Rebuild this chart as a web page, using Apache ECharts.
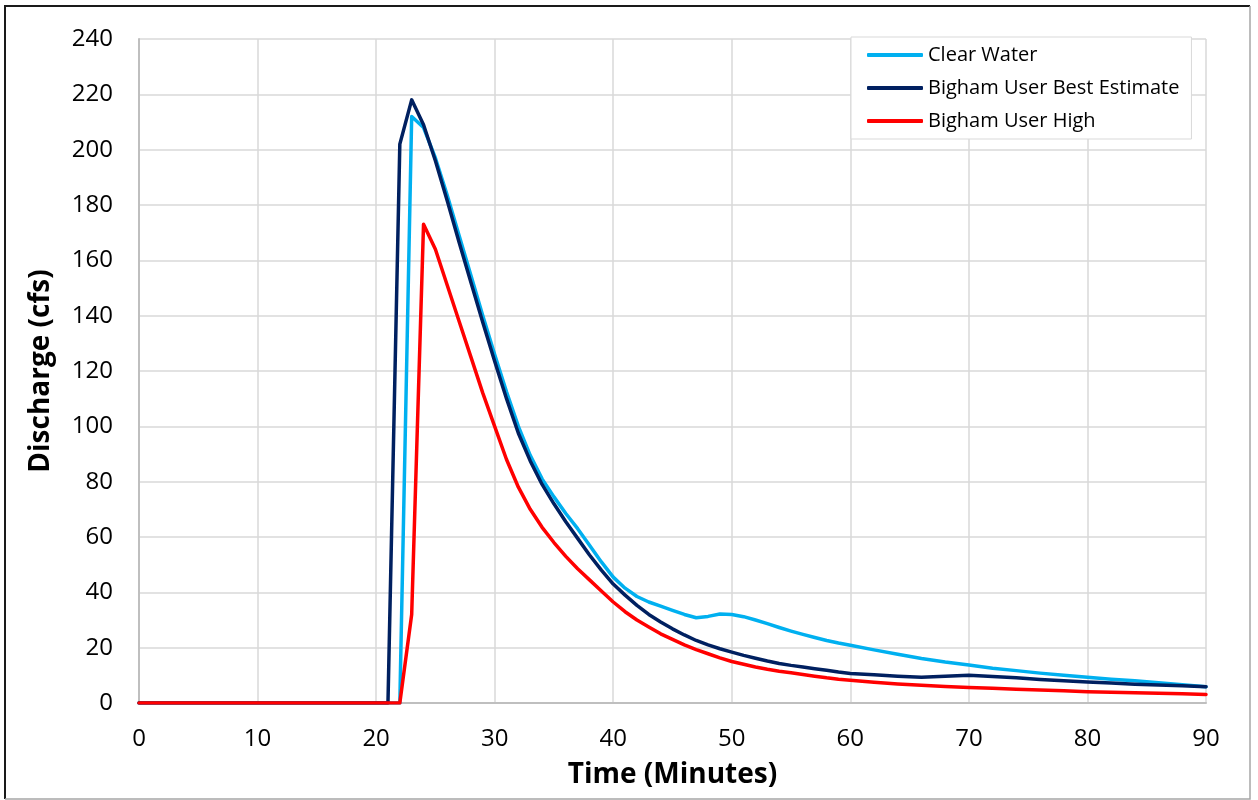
<!DOCTYPE html>
<html>
<head>
<meta charset="utf-8">
<title>Discharge hydrograph</title>
<script src="https://cdn.jsdelivr.net/npm/echarts@6/dist/echarts.min.js"></script>
<style>
  html, body { margin: 0; padding: 0; background: #fff; }
  #chart { width: 1258px; height: 800px; }
</style>
</head>
<body>
<div id="chart"></div>
<script>
// time (minutes) shared by all three hydrographs
var times = [0, 10, 20,
  21, 22, 23, 24, 25, 26, 27, 28, 29, 30,
  31, 32, 33, 34, 35, 36, 37, 38, 39, 40,
  41, 42, 43, 44, 45, 46, 47, 48, 49, 50,
  51, 52, 53, 54, 55, 56, 57, 58, 59, 60,
  62, 64, 66, 68, 70, 72, 74, 76, 78, 80,
  82, 84, 86, 88, 90];

var clearWater = [0, 0, 0,
  0, 0, 212, 208, 197, 183.5, 169, 154.5, 140, 126,
  112.5, 100, 89.5, 81, 74.5, 68.5, 63, 57, 51, 45.5,
  41.5, 38.5, 36.5, 35, 33.5, 32, 30.8, 31.3, 32.2, 32,
  31.2, 30, 28.7, 27.3, 26, 24.8, 23.7, 22.6, 21.7, 20.9,
  19.2, 17.6, 16.1, 14.8, 13.7, 12.6, 11.7, 10.8, 10, 9.3,
  8.6, 8, 7.3, 6.6, 5.9];

var bestEstimate = [0, 0, 0,
  0, 202, 218, 209, 196, 181.5, 166.5, 152, 137.5, 123.5,
  110, 97.5, 87.5, 79, 72, 65.5, 59.5, 53.5, 48, 43,
  39, 35.3, 32, 29.3, 26.8, 24.6, 22.6, 21, 19.6, 18.4,
  17.2, 16.2, 15.2, 14.3, 13.6, 13, 12.4, 11.8, 11.2, 10.7,
  10.2, 9.7, 9.3, 9.7, 10, 9.6, 9.1, 8.5, 8, 7.6,
  7.2, 6.8, 6.5, 6.2, 5.9];

var userHigh = [0, 0, 0,
  0, 0, 32, 173, 164, 151, 138, 125, 112, 100,
  88, 78, 70, 63.5, 58, 53, 48.5, 44.5, 40.5, 36.5,
  33, 30, 27.5, 25, 23, 21, 19.3, 17.8, 16.3, 15,
  14, 13, 12.2, 11.5, 10.9, 10.3, 9.7, 9.1, 8.6, 8.2,
  7.5, 6.9, 6.4, 6, 5.6, 5.3, 5, 4.7, 4.4, 4.1,
  3.9, 3.7, 3.5, 3.3, 3.1];

var seriesNames = ['Clear Water', 'Bigham User Best Estimate', 'Bigham User High'];
var seriesColors = ['#00b0f0', '#002060', '#ff0000'];

var pairs = function (values) {
    return times.map(function (t, i) { return [t, values[i]]; });
};

var font = '"Open Sans", "Liberation Sans", sans-serif';

var lineSeries = function (idx, values) {
    return {
        name: seriesNames[idx],
        type: 'line',
        showSymbol: false,
        symbol: 'none',
        smooth: false,
        animation: false,
        lineStyle: { color: seriesColors[idx], width: 3.5, cap: 'round', join: 'round' },
        itemStyle: { color: seriesColors[idx] },
        data: pairs(values)
    };
};

var myChart = echarts.init(document.getElementById('chart'));

var option = {
    animation: false,
    backgroundColor: '#ffffff',
    textStyle: { fontFamily: font },
    grid: { left: 139, right: 52, top: 39, bottom: 97 },
    legend: {
        orient: 'vertical',
        left: 851,
        top: 37,
        padding: [8, 12, 8, 16],
        itemGap: 13,
        itemWidth: 56,
        itemHeight: 4,
        icon: 'roundRect',
        backgroundColor: '#ffffff',
        borderColor: '#d9d9d9',
        borderWidth: 1,
        textStyle: { fontFamily: font, fontSize: 20, color: '#000', lineHeight: 20 },
        data: seriesNames
    },
    xAxis: {
        type: 'value',
        min: 0,
        max: 90,
        interval: 10,
        name: 'Time (Minutes)',
        nameLocation: 'middle',
        nameGap: 58,
        nameTextStyle: { fontFamily: font, fontSize: 28, fontWeight: 'bold', color: '#000' },
        axisLine: { show: true, onZero: false, lineStyle: { color: '#bfbfbf', width: 2 } },
        axisTick: { show: false },
        axisLabel: { margin: 24, fontSize: 24, color: '#000', fontFamily: font },
        splitLine: { show: true, lineStyle: { color: '#d9d9d9', width: 1.5 } }
    },
    yAxis: {
        type: 'value',
        min: 0,
        max: 240,
        interval: 20,
        name: 'Discharge (cfs)',
        nameLocation: 'middle',
        nameGap: 84,
        nameTextStyle: { fontFamily: font, fontSize: 28, fontWeight: 'bold', color: '#000' },
        axisLine: { show: true, lineStyle: { color: '#bfbfbf', width: 2 } },
        axisTick: { show: false },
        axisLabel: { margin: 26, fontSize: 24, color: '#000', fontFamily: font },
        splitLine: { show: true, lineStyle: { color: '#d9d9d9', width: 1.5 } }
    },
    graphic: [
        {
            type: 'polyline',
            shape: { points: [[5, 799], [5, 6], [1250, 6]] },
            style: { stroke: '#1a1a1a', lineWidth: 2, fill: null },
            silent: true
        },
        {
            type: 'polyline',
            shape: { points: [[1250, 6], [1250, 799], [5, 799]] },
            style: { stroke: '#a6a6a6', lineWidth: 1.5, fill: null },
            silent: true
        }
    ],
    series: [
        lineSeries(0, clearWater),
        lineSeries(1, bestEstimate),
        lineSeries(2, userHigh)
    ]
};

myChart.setOption(option);
</script>
</body>
</html>
